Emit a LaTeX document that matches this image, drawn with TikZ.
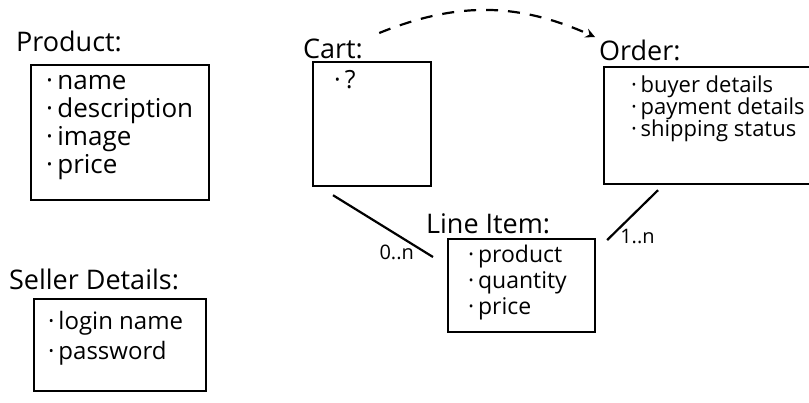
\documentclass[tikz,border=0pt]{standalone}
\usepackage{fontspec}
\setmainfont{Open Sans}
\usetikzlibrary{positioning,arrows}
\tikzset{
	every path/.style={line width=1.1pt},
	entity/.style={
		rectangle, draw=black, inner sep=0pt, anchor=north west
	},
	title/.style={inner sep=0pt, font=\fontsize{13.5}{16}\selectfont},
	items/.style={inner sep=0pt, anchor=north west, align=left},
	link/.style={-, line width=1.1pt},
	flow/.style={->, >=stealth, line width=1.1pt, dash pattern=on 6pt off 5pt},
	mult/.style={inner sep=0pt, font=\fontsize{10}{12}\selectfont}
}

\begin{document}
\begin{tikzpicture}[x=0.5pt, y=-0.5pt]
	\useasboundingbox (0,0) rectangle (809,402);

	%Boxes
	\node[entity, minimum width=89pt, minimum height=67.5pt]   (product)  at (30,64)   {};
	\node[entity, minimum width=59pt, minimum height=62pt]     (cart)     at (312,61)  {};
	\node[entity, minimum width=106pt, minimum height=58.5pt]  (order)    at (603,66)  {};
	\node[entity, minimum width=73.5pt, minimum height=46.5pt] (lineitem) at (447,238) {};
	\node[entity, minimum width=86pt, minimum height=46pt]     (seller)   at (33,298)  {};

	%Titles
	\node[title] (producttitle)  [above right=5.5pt and -7.5pt of product.north west]  {Product:};
	\node[title] (carttitle)     [above right=0.5pt and -5pt of cart.north west]       {Cart:};
	\node[title] (ordertitle)    [above right=2pt and -2.5pt of order.north west]      {Order:};
	\node[title] (lineitemtitle) [above right=1.5pt and -11pt of lineitem.north west]  {Line Item:};
	\node[title] (sellertitle)   [above right=3.5pt and -12.5pt of seller.north west]  {Seller Details:};

	%Items
	\node[items, font=\fontsize{13}{14}\selectfont] (productlist) at ([shift={(15,10)}]product.north west)
		{·\,name\\ ·\,description\\ ·\,image\\ ·\,price};
	\node[items, font=\fontsize{12.5}{14}\selectfont] (cartlist) at ([shift={(21,8)}]cart.north west)
		{·\,?};
	\node[items, font=\fontsize{11}{11}\selectfont] (orderlist) at ([shift={(27,9)}]order.north west)
		{·\,buyer details\\ ·\,payment details\\ ·\,shipping status};
	\node[items, font=\fontsize{11.5}{13}\selectfont] (lineitemlist) at ([shift={(20,6)}]lineitem.north west)
		{·\,product\\ ·\,quantity\\ ·\,price};
	\node[items, font=\fontsize{12}{15}\selectfont] (sellerlist) at ([shift={(14,12)}]seller.north west)
		{·\,login name\\ ·\,password};

	%Lines
	\draw[link] ([shift={(21,8)}]cart.south west) -- ([shift={(-14,19)}]lineitem.north west)
		node[mult, pos=1, anchor=base east, xshift=-9pt, yshift=-1pt] {0..n};
	\draw[link] ([shift={(55,5)}]order.south west) -- ([shift={(11,2)}]lineitem.north east)
		node[mult, pos=1, anchor=base west, xshift=6pt, yshift=-1.5pt] {1..n};
	\draw[flow] ([shift={(-53,-28)}]cart.north east) to[bend left=23] ([shift={(-8,-29)}]order.north west);
\end{tikzpicture}
\end{document}
